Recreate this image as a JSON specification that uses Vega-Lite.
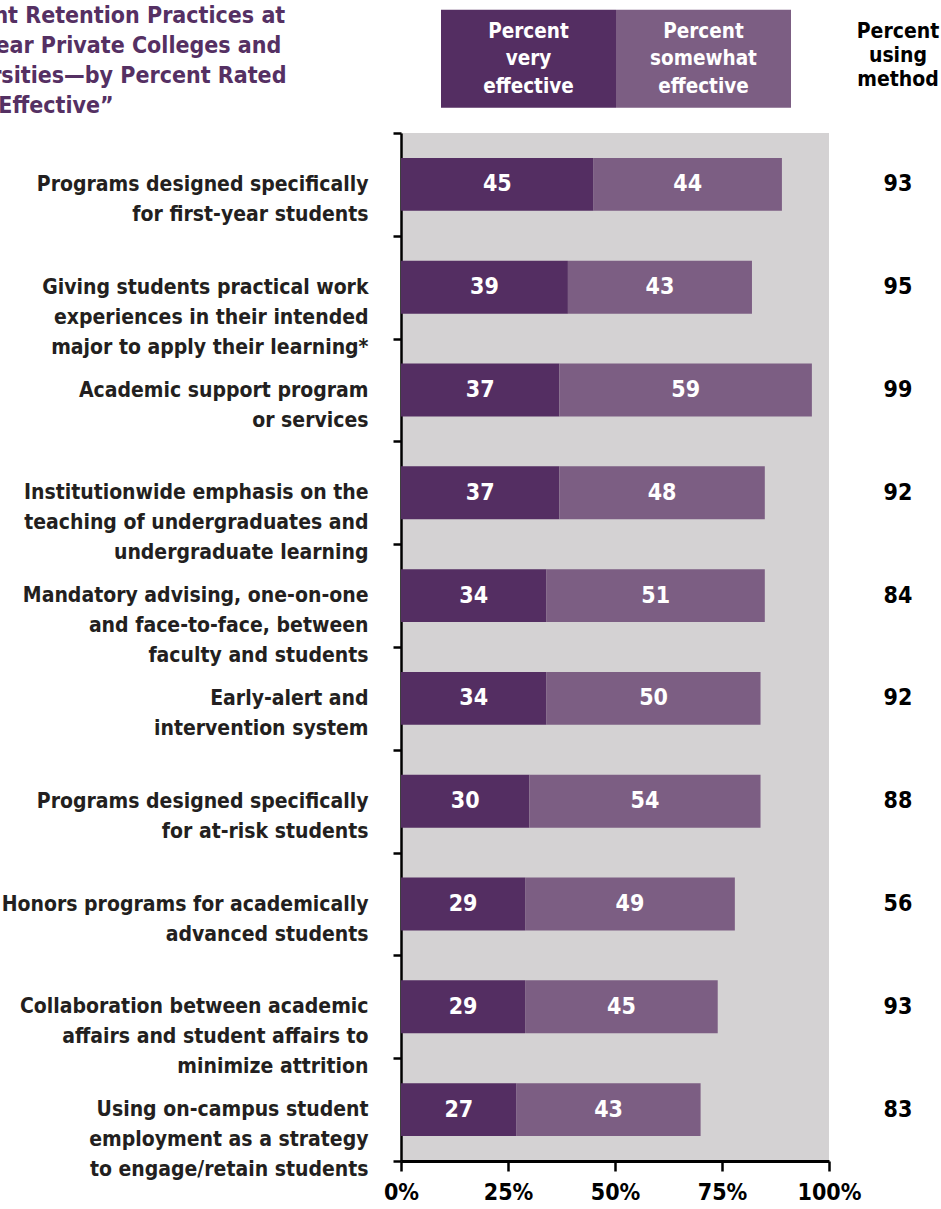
{
  "$schema": "https://vega.github.io/schema/vega-lite/v6.json",
  "width": 428,
  "height": 1028,
  "autosize": {"type": "none"},
  "padding": {"left": 401, "top": 133, "right": 112, "bottom": 48},
  "background": "white",
  "view": {"fill": "#d4d2d3", "stroke": null},
  "title": {
    "text": ["Student Retention Practices at", "Four-Year Private Colleges and", "Universities—by Percent Rated", "“Very Effective”"],
    "anchor": "start",
    "frame": "group",
    "dx": -476,
    "dy": 151,
    "fontSize": 23,
    "font": "Liberation Sans Narrow, DejaVu Sans Condensed, sans-serif",
    "fontWeight": "bold",
    "color": "#553063",
    "lineHeight": 30
  },
  "data": {
    "values": [
      {"practice": "Programs designed specifically|for first-year students", "Percent very effective": 45, "Percent somewhat effective": 44, "using": 93},
      {"practice": "Giving students practical work|experiences in their intended|major to apply their learning*", "Percent very effective": 39, "Percent somewhat effective": 43, "using": 95},
      {"practice": "Academic support program|or services", "Percent very effective": 37, "Percent somewhat effective": 59, "using": 99},
      {"practice": "Institutionwide emphasis on the|teaching of undergraduates and|undergraduate learning", "Percent very effective": 37, "Percent somewhat effective": 48, "using": 92},
      {"practice": "Mandatory advising, one-on-one|and face-to-face, between|faculty and students", "Percent very effective": 34, "Percent somewhat effective": 51, "using": 84},
      {"practice": "Early-alert and |intervention system", "Percent very effective": 34, "Percent somewhat effective": 50, "using": 92},
      {"practice": "Programs designed specifically|for at-risk students", "Percent very effective": 30, "Percent somewhat effective": 54, "using": 88},
      {"practice": "Honors programs for academically|advanced students", "Percent very effective": 29, "Percent somewhat effective": 49, "using": 56},
      {"practice": "Collaboration between academic|affairs and student affairs to|minimize attrition", "Percent very effective": 29, "Percent somewhat effective": 45, "using": 93},
      {"practice": "Using on-campus student|employment as a strategy|to engage/retain students", "Percent very effective": 27, "Percent somewhat effective": 43, "using": 83}
    ]
  },
  "transform": [
    {"fold": ["Percent very effective", "Percent somewhat effective"], "as": ["rating", "pct"]},
    {"stack": "pct", "groupby": ["practice"], "sort": [{"field": "rating", "order": "descending"}], "as": ["x0", "x1"]}
  ],
  "encoding": {
    "y": {
      "field": "practice",
      "type": "nominal",
      "sort": null,
      "scale": {"paddingInner": 0, "paddingOuter": 0},
      "axis": {
        "title": null,
        "labelExpr": "split(datum.label, '|')",
        "labelFont": "Liberation Sans Narrow, DejaVu Sans Condensed, sans-serif",
        "labelFontSize": 21,
        "labelFontWeight": "bold",
        "labelColor": "#231f20",
        "labelLineHeight": 30,
        "labelAlign": "right",
        "labelBaseline": "middle",
        "labelPadding": 25,
        "labelLimit": 500,
        "tickBand": "extent",
        "tickSize": 8,
        "tickWidth": 2.5,
        "tickColor": "black",
        "domainColor": "black",
        "domainWidth": 2.5
      }
    }
  },
  "layer": [
    {
      "mark": {"type": "bar", "height": {"band": 0.515}},
      "encoding": {
        "x": {
          "field": "x0",
          "type": "quantitative",
          "scale": {"domain": [0, 100], "nice": false},
          "axis": {
            "title": null,
            "values": [0, 25, 50, 75, 100],
            "labelExpr": "datum.value + '%'",
            "grid": false,
            "labelFont": "Liberation Sans Narrow, DejaVu Sans Condensed, sans-serif",
            "labelFontSize": 23,
            "labelFontWeight": "bold",
            "labelColor": "black",
            "labelPadding": 10,
            "labelDx": 4,
            "labelFlush": false,
            "labelOverlap": false,
            "tickSize": 10,
            "tickWidth": 2.5,
            "tickColor": "black",
            "domainColor": "black",
            "domainWidth": 3
          }
        },
        "x2": {"field": "x1"},
        "color": {
          "field": "rating",
          "type": "nominal",
          "sort": ["Percent very effective", "Percent somewhat effective"],
          "scale": {"domain": ["Percent very effective", "Percent somewhat effective"], "range": ["#542e62", "#7c5e83"]},
          "legend": {
            "orient": "none",
            "legendX": 40,
            "legendY": -162,
            "direction": "horizontal",
            "columns": 2,
            "columnPadding": 0,
            "padding": 0,
            "symbolType": "M-1,-0.56H1V0.56H-1Z",
            "symbolSize": 30625,
            "symbolStrokeWidth": 0,
            "symbolOpacity": 1,
            "labelExpr": "split(datum.label, ' ')",
            "labelAlign": "center",
            "labelOffset": -87.5,
            "labelColor": "white",
            "labelFont": "Liberation Sans Narrow, DejaVu Sans Condensed, sans-serif",
            "labelFontSize": 20.5,
            "labelFontWeight": "bold",
            "labelLimit": 400,
            "title": ["Percent", "using", "method"],
            "titleOrient": "right",
            "titleAlign": "center",
            "titleAnchor": "start",
            "titleBaseline": "top",
            "titleColor": "black",
            "titleFont": "Liberation Sans Narrow, DejaVu Sans Condensed, sans-serif",
            "titleFontSize": 21,
            "titleFontWeight": "bold",
            "titleLineHeight": 24,
            "titlePadding": 107,
            "titleLimit": 300,
            "encode": {
              "labels": {"update": {"lineHeight": {"value": 27.5}, "dy": {"value": -27}}},
              "title": {"update": {"dy": {"value": 50}}}
            }
          }
        }
      }
    },
    {
      "transform": [
        {"fold": ["x0", "x1"], "as": ["edge", "pos"]},
        {"aggregate": [{"op": "mean", "field": "pos", "as": "mid"}, {"op": "max", "field": "pct", "as": "val"}], "groupby": ["practice", "rating"]}
      ],
      "mark": {"type": "text", "color": "white", "font": "Liberation Sans Narrow, DejaVu Sans Condensed, sans-serif", "fontSize": 23, "fontWeight": "bold", "baseline": "middle", "align": "center"},
      "encoding": {
        "x": {"field": "mid", "type": "quantitative"},
        "text": {"field": "val", "type": "quantitative"}
      }
    },
    {
      "transform": [{"filter": {"field": "rating", "equal": "Percent very effective"}}],
      "mark": {"type": "text", "color": "black", "font": "Liberation Sans Narrow, DejaVu Sans Condensed, sans-serif", "fontSize": 23, "fontWeight": "bold", "baseline": "middle", "align": "center"},
      "encoding": {
        "x": {"datum": 116.1, "type": "quantitative"},
        "text": {"field": "using", "type": "quantitative"}
      }
    }
  ]
}
